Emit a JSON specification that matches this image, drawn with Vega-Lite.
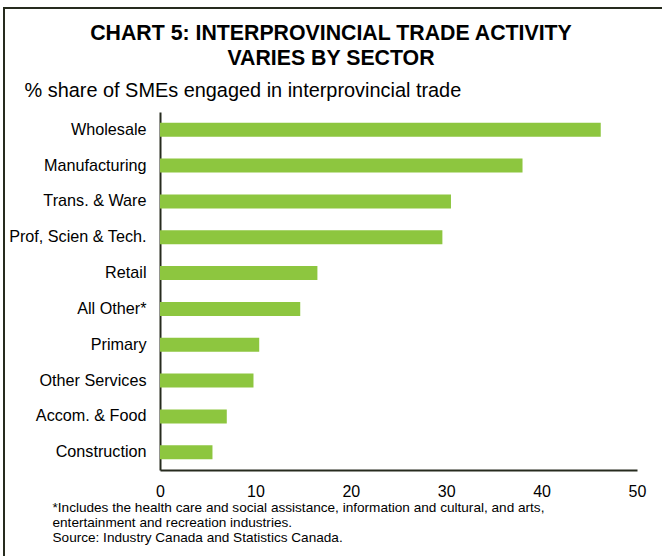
{
  "$schema": "https://vega.github.io/schema/vega-lite/v6.json",
  "width": 662,
  "height": 552,
  "autosize": {"type": "none"},
  "padding": {"left": 4, "top": 8, "right": -4, "bottom": -4},
  "background": "white",
  "title": {
    "text": ["CHART 5: INTERPROVINCIAL TRADE ACTIVITY", "VARIES BY SECTOR"],
    "font": "Liberation Sans",
    "fontSize": 21.3,
    "fontWeight": "bold",
    "color": "#000000",
    "lineHeight": 24.5,
    "anchor": "middle",
    "frame": "group",
    "offset": -61,
    "dx": -4
  },
  "data": {
    "values": [
      {"sector": "Wholesale", "share": 46.2},
      {"sector": "Manufacturing", "share": 38.0},
      {"sector": "Trans. & Ware", "share": 30.5},
      {"sector": "Prof, Scien & Tech.", "share": 29.6},
      {"sector": "Retail", "share": 16.5},
      {"sector": "All Other*", "share": 14.7},
      {"sector": "Primary", "share": 10.4},
      {"sector": "Other Services", "share": 9.8},
      {"sector": "Accom. & Food", "share": 7.0},
      {"sector": "Construction", "share": 5.5}
    ]
  },
  "mark": {"type": "bar", "color": "#8DC63F"},
  "encoding": {
    "y": {
      "field": "sector",
      "type": "nominal",
      "sort": null,
      "scale": {"range": [104, 462], "paddingInner": 0.61, "paddingOuter": 0.3},
      "axis": {
        "title": "% share of SMEs engaged in interprovincial trade",
        "titleAngle": 0,
        "titleAlign": "left",
        "titleBaseline": "alphabetic",
        "titleX": -136,
        "titleY": 88.5,
        "titleFont": "Liberation Sans",
        "titleFontSize": 19.9,
        "titleFontWeight": "normal",
        "titleColor": "#000000",
        "offset": -156,
        "ticks": false,
        "grid": false,
        "labelPadding": 14,
        "labelFont": "Liberation Sans",
        "labelFontSize": 16.2,
        "labelColor": "#000000",
        "domainColor": "#262b1e",
        "domainWidth": 2
      }
    },
    "x": {
      "field": "share",
      "type": "quantitative",
      "scale": {"domain": [0, 50], "range": [156, 633], "nice": false, "zero": true},
      "axis": {
        "title": [
          "*Includes the health care and social assistance, information and cultural, and arts,",
          "entertainment and recreation industries.",
          "Source: Industry Canada and Statistics Canada."
        ],
        "titleX": 48,
        "titleY": 41.5,
        "titleAlign": "left",
        "titleBaseline": "alphabetic",
        "titleFont": "Liberation Sans",
        "titleFontSize": 13.6,
        "titleFontWeight": "normal",
        "titleLineHeight": 15,
        "titleColor": "#000000",
        "offset": -90,
        "ticks": false,
        "grid": false,
        "values": [0, 10, 20, 30, 40, 50],
        "labelFlush": false,
        "labelPadding": 13,
        "labelFont": "Liberation Sans",
        "labelFontSize": 16,
        "labelColor": "#000000",
        "domainColor": "#262b1e",
        "domainWidth": 2
      }
    }
  },
  "config": {
    "view": {"stroke": "#262b1e", "strokeWidth": 2},
    "font": "Liberation Sans"
  }
}
